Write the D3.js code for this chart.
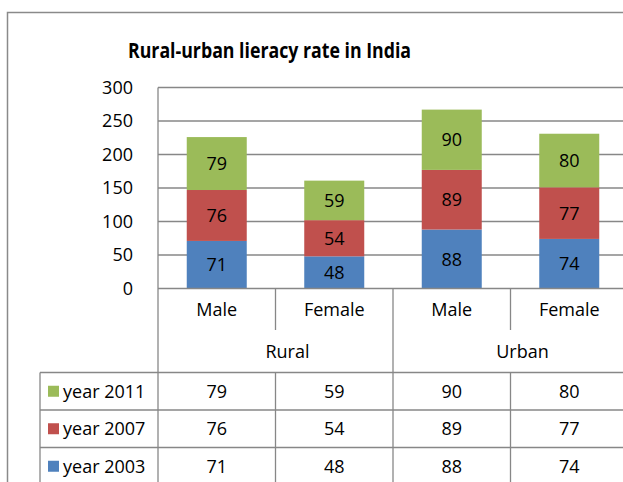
<!DOCTYPE html>
<html>
<head>
<meta charset="utf-8">
<script src="https://cdn.jsdelivr.net/npm/d3@7"></script>
<style>
  html, body { margin: 0; padding: 0; background: #fff; }
  svg { display: block; }
  text { font-family: "Open Sans", "Liberation Sans", sans-serif; fill: #000; }
</style>
</head>
<body>
<svg id="chart" width="623" height="482"></svg>
<script>
// ---- data ----
const categories = ["Male", "Female", "Male", "Female"];
const groups = ["Rural", "Urban"];
const seriesNames = ["year 2003", "year 2007", "year 2011"];
const year2003 = [71, 48, 88, 74];
const year2007 = [76, 54, 89, 77];
const year2011 = [79, 59, 90, 80];
const yTicks = [0, 50, 100, 150, 200, 250, 300];
const title = "Rural-urban lieracy rate in India";

// ---- layout/styles ----
const colors = { "year 2003": "#4F81BD", "year 2007": "#C0504D", "year 2011": "#9BBB59" };
const gridColor = "#878787";
const plotLeft = 158, plotRight = 628, plotTop = 87.5, plotBottom = 288.5;
const catRowBottom = 330, groupRowBottom = 372.5, rowH = 37.5, legendLeft = 40;
const barWidth = 60;
const fontSize = 18;
const groupLabelShift = 12;

const svg = d3.select("#chart");

const rows = categories.map((c, i) => ({
  idx: i,
  "year 2003": year2003[i],
  "year 2007": year2007[i],
  "year 2011": year2011[i]
}));

const x = d3.scaleBand().domain(d3.range(categories.length)).range([plotLeft, plotRight]).padding(0);
const xGroup = d3.scaleBand().domain(groups).range([plotLeft, plotRight]).padding(0);
const y = d3.scaleLinear().domain([0, 300]).range([plotBottom, plotTop]);

const stack = d3.stack().keys(seriesNames);
const stacked = stack(rows);

// outer chart border
svg.append("rect")
  .attr("x", 7.5).attr("y", 12.5)
  .attr("width", 700).attr("height", 600)
  .attr("fill", "none").attr("stroke", "#8a8a8a").attr("stroke-width", 1.5);

// title
svg.append("text")
  .attr("x", 269.5).attr("y", 58)
  .attr("text-anchor", "middle")
  .attr("font-weight", "bold")
  .attr("font-size", 21.5)
  .attr("textLength", 283)
  .attr("lengthAdjust", "spacingAndGlyphs")
  .text(title);

// gridlines
svg.append("g").selectAll("line")
  .data(yTicks.filter(t => t > 0))
  .join("line")
  .attr("x1", plotLeft).attr("x2", plotRight)
  .attr("y1", d => y(d)).attr("y2", d => y(d))
  .attr("stroke", gridColor).attr("stroke-width", 1.3);

// y axis labels
const yAxis = d3.axisLeft(y).tickValues(yTicks).tickSize(0).tickPadding(25);
const gy = svg.append("g").attr("transform", `translate(${plotLeft},0)`).call(yAxis);
gy.select(".domain").remove();
gy.selectAll("text")
  .attr("font-size", fontSize)
  .attr("font-family", "'Open Sans', 'Liberation Sans', sans-serif")
  .attr("fill", "#000");

// bars
const layers = svg.append("g").selectAll("g")
  .data(stacked)
  .join("g")
  .attr("fill", d => colors[d.key]);

layers.selectAll("rect")
  .data(d => d)
  .join("rect")
  .attr("x", d => x(d.data.idx) + (x.bandwidth() - barWidth) / 2)
  .attr("width", barWidth)
  .attr("y", d => y(d[1]))
  .attr("height", d => y(d[0]) - y(d[1]));

// bar labels
stacked.forEach(layer => {
  svg.append("g").selectAll("text")
    .data(layer)
    .join("text")
    .attr("x", d => x(d.data.idx) + x.bandwidth() / 2)
    .attr("y", d => (y(d[0]) + y(d[1])) / 2)
    .attr("dy", "0.36em")
    .attr("text-anchor", "middle")
    .attr("font-size", fontSize)
    .text(d => d.data[layer.key]);
});

// ---- data table ----
const tbl = svg.append("g").attr("stroke", gridColor).attr("stroke-width", 1.3);
const nRows = seriesNames.length;
const tableBottom = groupRowBottom + nRows * rowH;

// left plot axis line (runs through the table)
tbl.append("line").attr("x1", plotLeft).attr("x2", plotLeft).attr("y1", plotTop).attr("y2", tableBottom);
// x axis line
tbl.append("line").attr("x1", plotLeft).attr("x2", plotRight).attr("y1", plotBottom).attr("y2", plotBottom);
// category separators
d3.range(1, categories.length).forEach(i => {
  const xx = x(i);
  const isGroupBoundary = groups.some(g => Math.abs(xGroup(g) - xx) < 0.5);
  if (isGroupBoundary) {
    tbl.append("line").attr("x1", xx).attr("x2", xx).attr("y1", plotBottom).attr("y2", tableBottom);
  } else {
    tbl.append("line").attr("x1", xx).attr("x2", xx).attr("y1", plotBottom).attr("y2", catRowBottom);
    tbl.append("line").attr("x1", xx).attr("x2", xx).attr("y1", groupRowBottom).attr("y2", tableBottom);
  }
});
// horizontal row lines
d3.range(nRows + 1).forEach(r => {
  const yy = groupRowBottom + r * rowH;
  tbl.append("line").attr("x1", legendLeft).attr("x2", plotRight).attr("y1", yy).attr("y2", yy);
});
// legend column left border
tbl.append("line").attr("x1", legendLeft).attr("x2", legendLeft).attr("y1", groupRowBottom).attr("y2", tableBottom);

// category labels
svg.append("g").selectAll("text")
  .data(categories)
  .join("text")
  .attr("x", (d, i) => x(i) + x.bandwidth() / 2)
  .attr("y", (plotBottom + catRowBottom) / 2)
  .attr("dy", "0.36em")
  .attr("text-anchor", "middle")
  .attr("font-size", fontSize)
  .text(d => d);

// group labels
svg.append("g").selectAll("text")
  .data(groups)
  .join("text")
  .attr("x", d => xGroup(d) + xGroup.bandwidth() / 2 + groupLabelShift)
  .attr("y", (catRowBottom + groupRowBottom) / 2)
  .attr("dy", "0.36em")
  .attr("text-anchor", "middle")
  .attr("font-size", fontSize)
  .text(d => d);

// table rows: top row is latest series
const tableSeries = seriesNames.slice().reverse();
const seriesData = { "year 2003": year2003, "year 2007": year2007, "year 2011": year2011 };
tableSeries.forEach((s, r) => {
  const cy = groupRowBottom + r * rowH + rowH / 2;
  svg.append("rect")
    .attr("x", 48).attr("y", cy - 5.5)
    .attr("width", 11).attr("height", 11)
    .attr("fill", colors[s]);
  svg.append("text")
    .attr("x", 63).attr("y", cy).attr("dy", "0.36em")
    .attr("font-size", fontSize)
    .text(s);
  svg.append("g").selectAll("text")
    .data(seriesData[s])
    .join("text")
    .attr("x", (d, i) => x(i) + x.bandwidth() / 2)
    .attr("y", cy).attr("dy", "0.36em")
    .attr("text-anchor", "middle")
    .attr("font-size", fontSize)
    .text(d => d);
});
</script>
</body>
</html>
